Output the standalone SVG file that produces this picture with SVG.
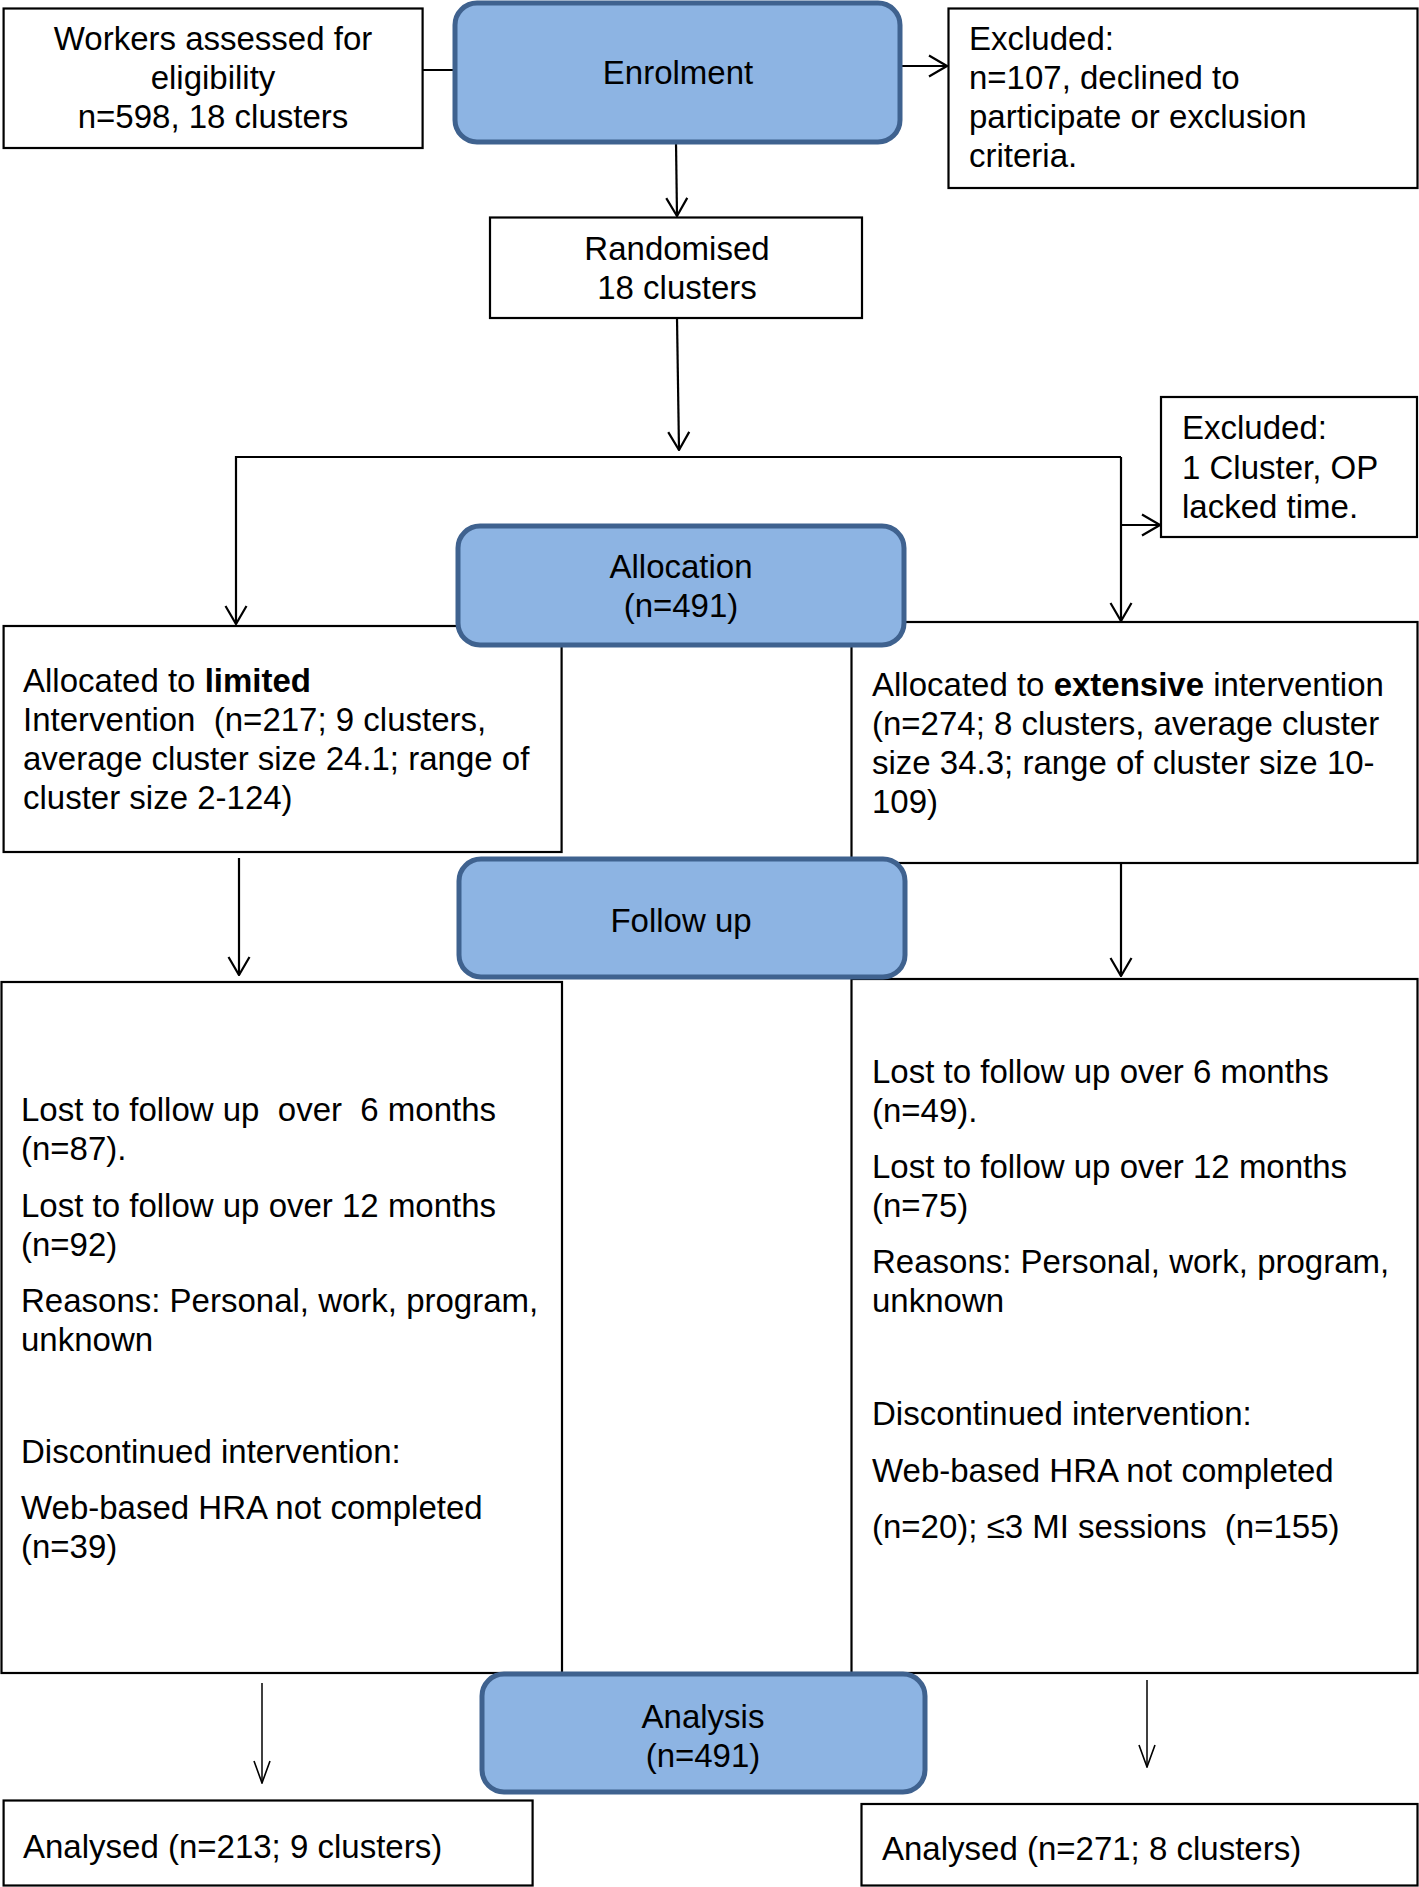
<svg xmlns="http://www.w3.org/2000/svg" width="1419" height="1887" viewBox="0 0 1419 1887">
<style>
  text { font-family: "Liberation Sans", Arial, sans-serif; font-size: 33px; fill: #000; }
  .c { text-anchor: middle; }
  .box { fill: #fff; stroke: #000; stroke-width: 2.2; }
  .blue { fill: #8db4e3; stroke: #3f628f; stroke-width: 5; }
  .ln { fill: none; stroke: #000; stroke-width: 2.2; }
  .thin { fill: none; stroke: #000; stroke-width: 1.5; }
  .b { font-weight: bold; }
</style>
<defs>
  <marker id="arr" viewBox="0 0 20 24" refX="19" refY="12" markerWidth="20" markerHeight="24" markerUnits="userSpaceOnUse" orient="auto">
    <path d="M1,1.5 L19,12 L1,22.5" fill="none" stroke="#000" stroke-width="2.2"/>
  </marker>
  <marker id="arrs" viewBox="0 0 24 18" refX="23" refY="9" markerWidth="24" markerHeight="18" markerUnits="userSpaceOnUse" orient="auto">
    <path d="M1,1 L23,9 L1,17" fill="none" stroke="#000" stroke-width="1.6"/>
  </marker>
</defs>
<rect width="1419" height="1887" fill="#fff"/>

<g id="connectors">
  <line class="ln" x1="422" y1="70" x2="456" y2="70"/>
  <line class="ln" x1="900" y1="66" x2="947" y2="66" marker-end="url(#arr)"/>
  <line class="ln" x1="676" y1="142" x2="677" y2="216" marker-end="url(#arr)"/>
  <line class="ln" x1="677" y1="318" x2="679" y2="450" marker-end="url(#arr)"/>
  <polyline class="ln" points="236,470 236,457 1121,457"/>
  <line class="ln" x1="236" y1="470" x2="236" y2="624" marker-end="url(#arr)"/>
  <line class="ln" x1="1121" y1="457" x2="1121" y2="621" marker-end="url(#arr)"/>
  <line class="ln" x1="1121" y1="525" x2="1160" y2="525" marker-end="url(#arr)"/>
  <line class="ln" x1="239" y1="858" x2="239" y2="975" marker-end="url(#arr)"/>
  <line class="ln" x1="1121" y1="863" x2="1121" y2="976" marker-end="url(#arr)"/>
  <line class="thin" x1="262" y1="1683" x2="262" y2="1783" marker-end="url(#arrs)"/>
  <line class="thin" x1="1147" y1="1680" x2="1147" y2="1767" marker-end="url(#arrs)"/>
</g>

<g id="workers">
  <rect class="box" x="3.6" y="8.5" width="419" height="139.5"/>
  <text class="c" x="213" y="50">Workers assessed for</text>
  <text class="c" x="213" y="89">eligibility</text>
  <text class="c" x="213" y="128">n=598, 18 clusters</text>
</g>

<g id="excluded1">
  <rect class="box" x="948.5" y="8.5" width="469" height="179.5"/>
  <text x="969" y="50">Excluded:</text>
  <text x="969" y="89">n=107, declined to</text>
  <text x="969" y="128">participate or exclusion</text>
  <text x="969" y="167">criteria.</text>
</g>

<g id="randomised">
  <rect class="box" x="490" y="217.5" width="372" height="100.5"/>
  <text class="c" x="677" y="260">Randomised</text>
  <text class="c" x="677" y="299">18 clusters</text>
</g>

<g id="excluded2">
  <rect class="box" x="1161" y="397" width="256" height="140"/>
  <text x="1182" y="439">Excluded:</text>
  <text x="1182" y="479">1 Cluster, OP</text>
  <text x="1182" y="518">lacked time.</text>
</g>

<g id="limited">
  <rect class="box" x="3.6" y="626" width="558" height="226"/>
  <text x="23" y="692">Allocated to <tspan class="b">limited</tspan></text>
  <text x="23" y="731" xml:space="preserve">Intervention  (n=217; 9 clusters,</text>
  <text x="23" y="770">average cluster size 24.1; range of</text>
  <text x="23" y="809">cluster size 2-124)</text>
</g>

<g id="extensive">
  <rect class="box" x="851.5" y="622" width="566" height="241"/>
  <text x="872" y="696">Allocated to <tspan class="b">extensive</tspan> intervention</text>
  <text x="872" y="735">(n=274; 8 clusters, average cluster</text>
  <text x="872" y="774">size 34.3; range of cluster size 10-</text>
  <text x="872" y="813">109)</text>
</g>

<g id="lost-limited">
  <rect class="box" x="1.5" y="982" width="560.5" height="691"/>
  <text x="21" y="1121" xml:space="preserve">Lost to follow up  over  6 months</text>
  <text x="21" y="1160">(n=87).</text>
  <text x="21" y="1217">Lost to follow up over 12 months</text>
  <text x="21" y="1256">(n=92)</text>
  <text x="21" y="1312">Reasons: Personal, work, program,</text>
  <text x="21" y="1351">unknown</text>
  <text x="21" y="1463">Discontinued intervention:</text>
  <text x="21" y="1519">Web-based HRA not completed</text>
  <text x="21" y="1558">(n=39)</text>
</g>

<g id="lost-extensive">
  <rect class="box" x="851.5" y="979" width="566" height="694"/>
  <text x="872" y="1083">Lost to follow up over 6 months</text>
  <text x="872" y="1122">(n=49).</text>
  <text x="872" y="1178">Lost to follow up over 12 months</text>
  <text x="872" y="1217">(n=75)</text>
  <text x="872" y="1273">Reasons: Personal, work, program,</text>
  <text x="872" y="1312">unknown</text>
  <text x="872" y="1425">Discontinued intervention:</text>
  <text x="872" y="1482">Web-based HRA not completed</text>
  <text x="872" y="1538" xml:space="preserve">(n=20); ≤3 MI sessions  (n=155)</text>
</g>

<g id="analysed-limited">
  <rect class="box" x="3.6" y="1800.5" width="529" height="85"/>
  <text x="23" y="1858">Analysed (n=213; 9 clusters)</text>
</g>

<g id="analysed-extensive">
  <rect class="box" x="861.5" y="1804" width="556" height="81.5"/>
  <text x="882" y="1860">Analysed (n=271; 8 clusters)</text>
</g>

<g id="enrolment">
  <rect class="blue" x="455" y="3" width="445" height="139" rx="22"/>
  <text class="c" x="678" y="84">Enrolment</text>
</g>

<g id="allocation">
  <rect class="blue" x="458" y="526" width="446" height="119" rx="22"/>
  <text class="c" x="681" y="578">Allocation</text>
  <text class="c" x="681" y="617">(n=491)</text>
</g>

<g id="followup">
  <rect class="blue" x="459" y="859" width="446" height="118" rx="22"/>
  <text class="c" x="681" y="932">Follow up</text>
</g>

<g id="analysis">
  <rect class="blue" x="482" y="1674" width="443" height="118" rx="22"/>
  <text class="c" x="703" y="1728">Analysis</text>
  <text class="c" x="703" y="1767">(n=491)</text>
</g>
</svg>
